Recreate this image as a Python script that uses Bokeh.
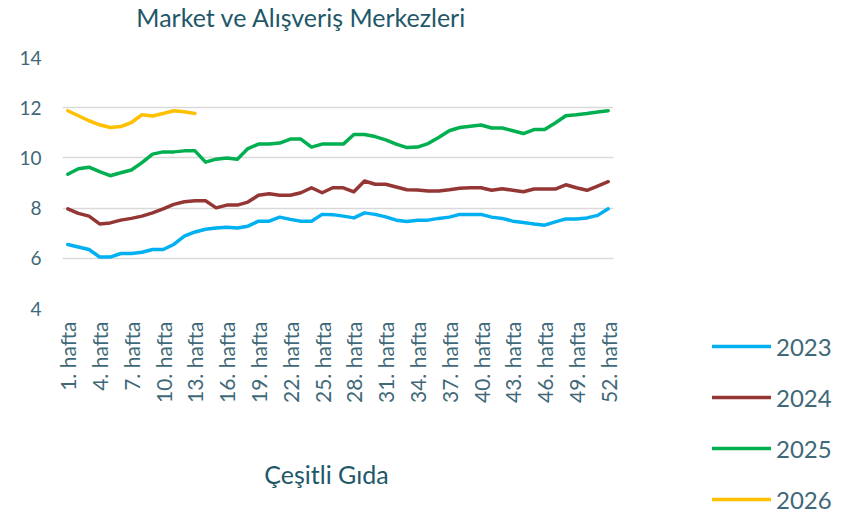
from bokeh.plotting import figure
from bokeh.layouts import column, row
from bokeh.models import Range1d, FixedTicker, Legend, LegendItem, Label
from bokeh.embed import file_html
from bokeh.resources import INLINE

weeks = list(range(1, 53))
tick_weeks = list(range(1, 53, 3))
tick_labels = {w: f"{w}. hafta" for w in tick_weeks}
y_ticks = [4, 6, 8, 10, 12, 14]

y2023 = [6.55, 6.45, 6.35, 6.05, 6.05, 6.19, 6.19, 6.24, 6.35, 6.35,
         6.55, 6.88, 7.05, 7.16, 7.21, 7.24, 7.21, 7.28, 7.48, 7.48,
         7.64, 7.55, 7.48, 7.48, 7.75, 7.74, 7.68, 7.61, 7.81, 7.75,
         7.65, 7.52, 7.47, 7.52, 7.52, 7.59, 7.64, 7.75, 7.75, 7.75,
         7.64, 7.59, 7.48, 7.43, 7.37, 7.32, 7.45, 7.57, 7.57, 7.61,
         7.71, 7.97]
y2024 = [7.97, 7.79, 7.68, 7.37, 7.41, 7.52, 7.59, 7.68, 7.81, 7.97,
         8.15, 8.25, 8.29, 8.29, 8.01, 8.12, 8.12, 8.24, 8.51, 8.57,
         8.51, 8.51, 8.61, 8.81, 8.61, 8.81, 8.81, 8.65, 9.08, 8.95,
         8.95, 8.84, 8.73, 8.72, 8.68, 8.68, 8.73, 8.79, 8.81, 8.81,
         8.71, 8.77, 8.71, 8.65, 8.76, 8.76, 8.76, 8.93, 8.81, 8.71,
         8.88, 9.05]
y2025 = [9.35, 9.57, 9.63, 9.45, 9.29, 9.41, 9.52, 9.81, 10.15, 10.24,
         10.24, 10.28, 10.28, 9.83, 9.95, 10.0, 9.95, 10.37, 10.55, 10.55,
         10.59, 10.75, 10.75, 10.43, 10.55, 10.55, 10.55, 10.93, 10.93, 10.85,
         10.72, 10.55, 10.41, 10.43, 10.57, 10.81, 11.08, 11.21, 11.26, 11.31,
         11.19, 11.19, 11.08, 10.97, 11.13, 11.13, 11.39, 11.68, 11.72, 11.77,
         11.83, 11.88]
y2026 = [11.88, 11.68, 11.48, 11.32, 11.21, 11.25, 11.41, 11.72, 11.67, 11.77,
         11.88, 11.84, 11.77]

series = [("2023", y2023, "#00B0F0"),
          ("2024", y2024, "#943634"),
          ("2025", y2025, "#00B050"),
          ("2026", y2026, "#FFC000")]

title_text = "Market ve Alışveriş Merkezleri"
next_title_text = "Çeşitli Gıda"
next_first_tick = "4.0"

FONT = "Lato"
TXT = "#3F6878"
TITLE = "#1E5868"


def blank(w, h, left=0, right=0):
    # pixel-unit ranges: data units equal canvas pixels
    f = figure(width=w, height=h, output_backend="svg", toolbar_location=None,
               title=None,
               x_range=Range1d(left, w - right), y_range=Range1d(0, h),
               x_axis_location=None, y_axis_location=None,
               min_border=0, min_border_left=left, min_border_right=right,
               min_border_top=0, min_border_bottom=0)
    f.outline_line_color = None
    f.grid.visible = False
    f.background_fill_color = "white"
    f.border_fill_color = "white"
    return f


# ---- title strip
t = blank(852, 47)
t.add_layout(Label(x=301, y=31, text=title_text, text_align="center",
                   text_baseline="middle", text_font=FONT,
                   text_font_size="25px", text_color=TITLE))

# ---- main chart
p = figure(width=640, height=408, output_backend="svg", toolbar_location=None,
           x_range=Range1d(0.5, 52.5), y_range=Range1d(4, 14),
           min_border_left=62, min_border_right=27,
           min_border_top=10, min_border_bottom=147)
p.outline_line_color = None
p.background_fill_color = "white"
p.border_fill_color = "white"

for name, vals, color in series:
    p.line(weeks[:len(vals)], vals, line_color=color, line_width=3.5,
           line_join="round", line_cap="round")

p.xgrid.visible = False
p.ygrid.grid_line_color = "#D9D9D9"
p.ygrid.grid_line_width = 1.3
p.yaxis.ticker = FixedTicker(ticks=y_ticks)
p.xaxis.ticker = FixedTicker(ticks=tick_weeks)
p.xaxis.major_label_overrides = tick_labels
p.xaxis.major_label_orientation = 3.14159265 / 2

for ax in (p.xaxis[0], p.yaxis[0]):
    ax.axis_line_color = None
    ax.major_tick_line_color = None
    ax.minor_tick_line_color = None
    ax.major_tick_out = 0
    ax.major_tick_in = 0
    ax.major_label_text_font = FONT
    ax.major_label_text_color = TXT
p.yaxis.major_label_text_font_size = "19px"
p.xaxis.major_label_text_font_size = "21px"
p.yaxis.major_label_standoff = 21
p.xaxis.major_label_standoff = 13

# ---- bottom strip (start of next chart); borders match the main chart
b = blank(640, 58, left=62, right=27)
b.add_layout(Label(x=326, y=40, text=next_title_text, text_align="center",
                   text_baseline="middle", text_font=FONT,
                   text_font_size="25px", text_color=TITLE))
b.add_layout(Label(x=40, y=-2, text=next_first_tick, text_align="right",
                   text_baseline="middle", text_font=FONT,
                   text_font_size="19px", text_color=TXT))

# ---- legend panel
lg = blank(212, 466)
items = []
for name, vals, color in series:
    r = lg.line(weeks[:len(vals)], vals, line_color=color, line_width=3.5,
                line_cap="round", visible=False)
    items.append(LegendItem(label=name, renderers=[r]))
legend = Legend(items=items, location=(72, -1), orientation="vertical",
                glyph_width=59, glyph_height=30, label_height=30,
                label_standoff=5, spacing=21, padding=0, margin=0,
                border_line_alpha=0, background_fill_alpha=0,
                inactive_fill_alpha=0,
                label_text_font=FONT, label_text_font_size="24px",
                label_text_color=TXT)
lg.add_layout(legend, "center")

layout = column(t, row(column(p, b), lg))
open("out.html", "w").write(file_html(layout, INLINE))
